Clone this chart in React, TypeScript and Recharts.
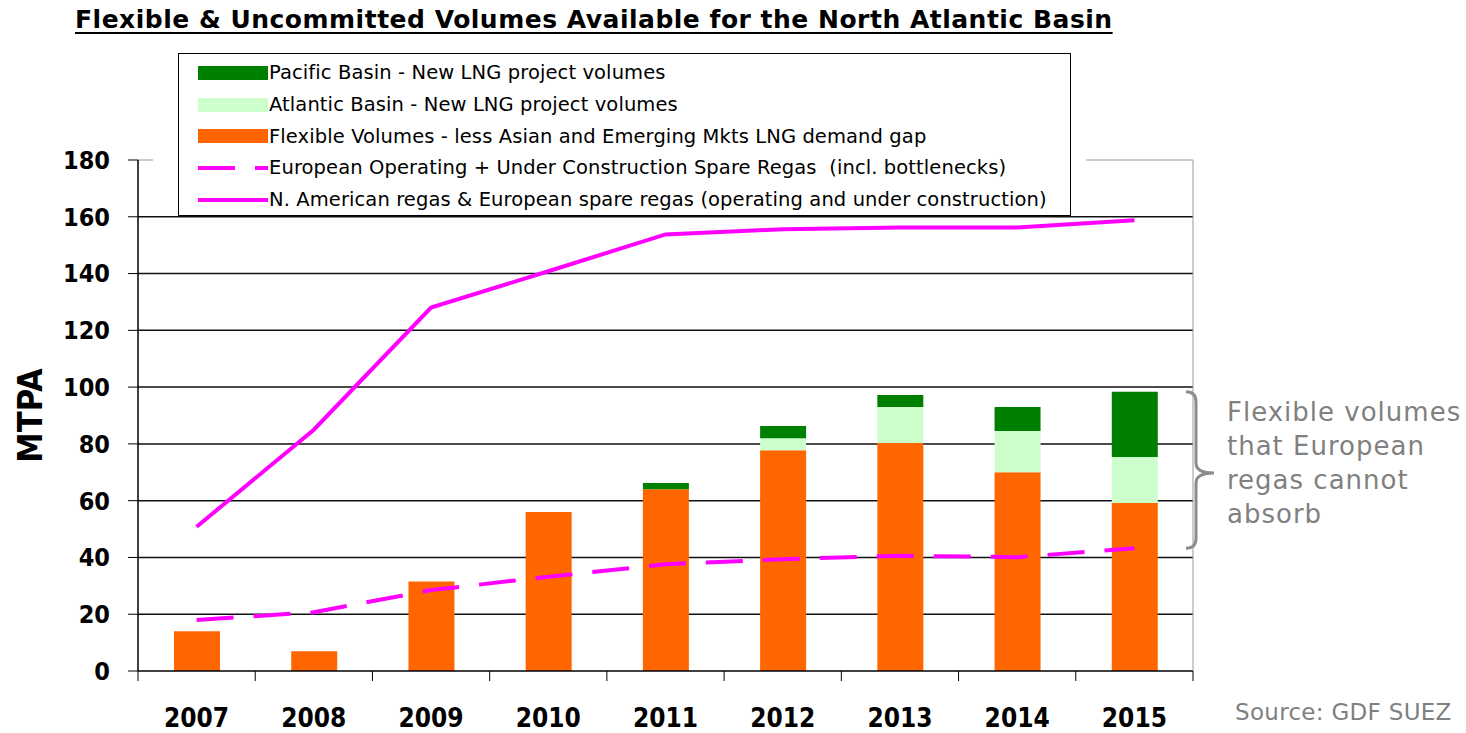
import {
  ComposedChart,
  Bar,
  Line,
  XAxis,
  YAxis,
  CartesianGrid,
  Legend,
  ReferenceLine,
  ReferenceArea,
} from "recharts";

const years = ["2007", "2008", "2009", "2010", "2011", "2012", "2013", "2014", "2015"];
const flexibleVolumes = [14, 7, 31.5, 56, 64, 77.8, 80.3, 70, 59.2];
const atlanticVolumes = [0, 0, 0, 0, 0, 4.2, 12.7, 14.5, 16.2];
const pacificVolumes = [0, 0, 0, 0, 2.2, 4.3, 4.2, 8.5, 23];
const europeanSpareRegas = [18, 20.7, 28.5, 33.2, 37.6, 39.4, 40.6, 40.1, 43.2];
const northAmericanRegas = [50.8, 85, 128, 140.8, 153.8, 155.6, 156.2, 156.2, 158.8];
const yTicks = [0, 20, 40, 60, 80, 100, 120, 140, 160, 180];
const gridValues = [20, 40, 60, 80, 100, 120, 140, 160];
const annotationLines = ["Flexible volumes", "that European", "regas cannot", "absorb"];

const series = [
  { key: "pacific", name: "Pacific Basin - New LNG project volumes", color: "#008000", kind: "bar" },
  { key: "atlantic", name: "Atlantic Basin - New LNG project volumes", color: "#CCFFCC", kind: "bar" },
  { key: "flexible", name: "Flexible Volumes - less Asian and Emerging Mkts LNG demand gap", color: "#FF6600", kind: "bar" },
  { key: "european", name: "European Operating + Under Construction Spare Regas  (incl. bottlenecks)", color: "#FF00FF", kind: "dash" },
  { key: "northAmerican", name: "N. American regas & European spare regas (operating and under construction)", color: "#FF00FF", kind: "line" },
];

const data = years.map((year, i) => ({
  year,
  flexible: flexibleVolumes[i],
  atlantic: atlanticVolumes[i],
  pacific: pacificVolumes[i],
  european: europeanSpareRegas[i],
  northAmerican: northAmericanRegas[i],
}));

const lastIndex = years.length - 1;
const stackTop2015 = flexibleVolumes[lastIndex] + atlanticVolumes[lastIndex] + pacificVolumes[lastIndex];

const WIDTH = 1466;
const HEIGHT = 733;
const PLOT_LEFT = 138;
const PLOT_RIGHT = 1193;
const PLOT_TOP = 160;
const X_AXIS_HEIGHT = 62;
const band = (PLOT_RIGHT - PLOT_LEFT) / years.length;

const tickFont = '"DejaVu Sans Condensed", "DejaVu Sans", sans-serif';
const textFont = '"DejaVu Sans", Verdana, sans-serif';
const magenta = "#FF00FF";
const dash = "37 20";

function YearTick(props: any) {
  const { x, y, payload, index } = props;
  const half = band / 2;
  return (
    <g>
      <line x1={x - half} x2={x - half} y1={y} y2={y + 10} stroke="#000" />
      {index === lastIndex && (
        <line x1={x + half} x2={x + half} y1={y} y2={y + 10} stroke="#000" />
      )}
      <text
        x={x}
        y={y + 56}
        textAnchor="middle"
        fontFamily={tickFont}
        fontWeight="bold"
        fontSize={26}
        fill="#000"
      >
        {payload.value}
      </text>
    </g>
  );
}

function Brace(props: any) {
  const { x, y, width, height } = props;
  const bx = x + width - 7;
  const mid = y + height / 2 + 3;
  const d = `M ${bx} ${y} Q ${bx + 10} ${y} ${bx + 10} ${y + 10} L ${bx + 10} ${mid - 10} Q ${bx + 10} ${mid} ${bx + 28} ${mid} Q ${bx + 10} ${mid} ${bx + 10} ${mid + 10} L ${bx + 10} ${y + height - 10} Q ${bx + 10} ${y + height} ${bx} ${y + height}`;
  return <path d={d} fill="none" stroke="#8c8c8c" strokeWidth={3} />;
}

function LegendBox() {
  return (
    <div style={{ background: "#fff", padding: "0 15px 0 25px" }}>
      <div
        style={{
          width: 891,
          height: 158,
          border: "1px solid #000",
          boxSizing: "content-box",
          paddingTop: 3,
          fontFamily: textFont,
          fontSize: 19.5,
          letterSpacing: 0.1,
          color: "#000",
        }}
      >
        {series.map((s) => (
          <div key={s.key} style={{ display: "flex", alignItems: "center", height: 31.7 }}>
            <svg width={90} height={20} style={{ flex: "none" }}>
              {s.kind === "bar" && <rect x={19} y={3} width={70} height={14} fill={s.color} />}
              {s.kind === "line" && (
                <line x1={19} x2={89} y1={10} y2={10} stroke={s.color} strokeWidth={4} />
              )}
              {s.kind === "dash" && (
                <line x1={19} x2={89} y1={10} y2={10} stroke={s.color} strokeWidth={4} strokeDasharray={dash} />
              )}
            </svg>
            <span style={{ whiteSpace: "pre" }}>{s.name}</span>
          </div>
        ))}
      </div>
    </div>
  );
}

export default function App() {
  return (
    <div style={{ position: "absolute", left: 0, top: 0, width: WIDTH, height: HEIGHT, background: "#fff" }}>
      <div
        style={{
          position: "absolute",
          left: 75,
          top: 5,
          fontFamily: textFont,
          fontWeight: "bold",
          fontSize: 25,
          letterSpacing: 0.5,
          textDecoration: "underline",
          textDecorationThickness: 2,
          textUnderlineOffset: 4,
          whiteSpace: "nowrap",
          color: "#000",
        }}
      >
        Flexible &amp; Uncommitted Volumes Available for the North Atlantic Basin
      </div>

      <ComposedChart
        width={WIDTH}
        height={HEIGHT}
        data={data}
        margin={{ top: PLOT_TOP, right: WIDTH - PLOT_RIGHT - 1, bottom: 0, left: 0 }}
      >
        <CartesianGrid vertical={false} horizontalValues={gridValues} stroke="#111" strokeWidth={1.5} />
        <ReferenceLine y={180} stroke="#999" />

        <XAxis
          dataKey="year"
          height={X_AXIS_HEIGHT}
          tickLine={false}
          tickSize={0}
          tickMargin={0}
          axisLine={{ stroke: "#000", strokeWidth: 1.5 }}
          tick={<YearTick />}
          interval={0}
        />

        <YAxis
          width={PLOT_LEFT}
          domain={[0, 180]}
          ticks={yTicks}
          tickSize={10}
          tickMargin={18}
          axisLine={{ stroke: "#000", strokeWidth: 1.5 }}
          tickLine={{ stroke: "#000" }}
          tick={{ fill: "#000", fontFamily: tickFont, fontWeight: "bold", fontSize: 25 }}
          label={{
            value: "MTPA",
            angle: -90,
            position: "center",
            dx: -39,
            fill: "#000",
            fontFamily: tickFont,
            fontWeight: "bold",
            fontSize: 34,
          }}
        />
        <YAxis
          yAxisId="frame"
          orientation="right"
          width={1}
          domain={[0, 180]}
          tick={false}
          tickLine={false}
          axisLine={{ stroke: "#999" }}
        />

        <Bar dataKey="flexible" stackId="a" fill="#FF6600" barSize={46} isAnimationActive={false} />
        <Bar dataKey="atlantic" stackId="a" fill="#CCFFCC" barSize={46} isAnimationActive={false} />
        <Bar dataKey="pacific" stackId="a" fill="#008000" barSize={46} isAnimationActive={false} />

        <Line
          type="linear"
          dataKey="european"
          stroke={magenta}
          strokeWidth={4}
          strokeDasharray={dash}
          dot={false}
          activeDot={false}
          isAnimationActive={false}
        />
        <Line
          type="linear"
          dataKey="northAmerican"
          stroke={magenta}
          strokeWidth={4}
          dot={false}
          activeDot={false}
          isAnimationActive={false}
        />

        <ReferenceArea
          x1="2015"
          x2="2015"
          y1={europeanSpareRegas[lastIndex]}
          y2={stackTop2015}
          ifOverflow="visible"
          shape={<Brace />}
        />

        <Legend
          verticalAlign="middle"
          align="center"
          content={() => <LegendBox />}
          wrapperStyle={{ position: "absolute", left: 153, top: 53, width: "auto" }}
        />
      </ComposedChart>

      <div
        style={{
          position: "absolute",
          left: 1227,
          top: 395,
          fontFamily: textFont,
          fontSize: 26,
          letterSpacing: 1,
          lineHeight: "34px",
          color: "#808080",
          whiteSpace: "nowrap",
        }}
      >
        {annotationLines.map((line) => (
          <div key={line}>{line}</div>
        ))}
      </div>

      <div
        style={{
          position: "absolute",
          left: 1235,
          top: 699,
          fontFamily: textFont,
          fontSize: 23,
          letterSpacing: 0.3,
          color: "#808080",
          whiteSpace: "nowrap",
        }}
      >
        Source: GDF SUEZ
      </div>
    </div>
  );
}
